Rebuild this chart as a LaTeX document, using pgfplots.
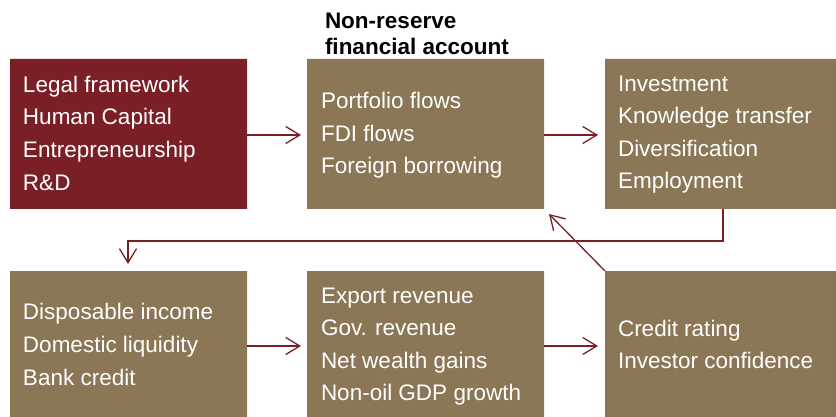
\documentclass[border=0pt]{standalone}
\usepackage{fontspec}
\setmainfont{Liberation Sans}
\usepackage{pgfplots}
\pgfplotsset{compat=1.18}
\usetikzlibrary{arrows.meta}
\definecolor{boxred}{HTML}{7B1F27}
\definecolor{boxbrown}{HTML}{8B7655}
\definecolor{arrred}{HTML}{7B1F27}
\tikzset{
  tt/.style={inner sep=0pt, outer sep=0pt, anchor=base west, text=white, font=\fontsize{22.5}{26}\selectfont},
  ht/.style={inner sep=0pt, outer sep=0pt, anchor=base west, text=black, font=\fontsize{22.5}{26}\selectfont\bfseries}
}
\begin{document}
\begin{tikzpicture}
\useasboundingbox (0,0) rectangle (836pt,417pt);
\begin{axis}[at={(0,0)}, anchor=south west, scale only axis,
  width=836pt, height=417pt, xmin=0, xmax=836, ymin=0, ymax=417,
  y dir=reverse, hide axis, clip=false]
% boxes
\addplot[fill=boxred, draw=none] coordinates {(10,59) (247,59) (247,209) (10,209) (10,59)};
\addplot[fill=boxbrown, draw=none] coordinates {(307,59) (544,59) (544,209) (307,209) (307,59)};
\addplot[fill=boxbrown, draw=none] coordinates {(605,59) (836,59) (836,209) (605,209) (605,59)};
\addplot[fill=boxbrown, draw=none] coordinates {(10,271) (247,271) (247,417) (10,417) (10,271)};
\addplot[fill=boxbrown, draw=none] coordinates {(307,271) (544,271) (544,417) (307,417) (307,271)};
\addplot[fill=boxbrown, draw=none] coordinates {(605,271) (836,271) (836,417) (605,417) (605,271)};
% arrows
\pgfplotsset{arr/.style={arrred, line width=1.3pt, -{Straight Barb[length=14pt, width=17pt, line width=1.3pt]}}}
\addplot[arr] coordinates {(247,135) (301,135)};
\addplot[arr] coordinates {(544,135) (598,135)};
\addplot[arr] coordinates {(247,346) (301,346)};
\addplot[arr] coordinates {(544,346) (598,346)};
\addplot[arr] coordinates {(723,209) (723,241) (128,241) (128,264)};
\addplot[arr] coordinates {(605,271) (549,214)};
% title
\node[ht] at (axis cs:325,29) {Non-reserve};
\node[ht] at (axis cs:325,55) {financial account};
% box texts
\node[tt] at (axis cs:23,93) {Legal framework};
\node[tt] at (axis cs:23,125) {Human Capital};
\node[tt] at (axis cs:23,158) {Entrepreneurship};
\node[tt] at (axis cs:23,191) {R\&D};
\node[tt] at (axis cs:321,109) {Portfolio flows};
\node[tt] at (axis cs:321,142) {FDI flows};
\node[tt] at (axis cs:321,174) {Foreign borrowing};
\node[tt] at (axis cs:618,92) {Investment};
\node[tt] at (axis cs:618,124) {Knowledge transfer};
\node[tt] at (axis cs:618,157) {Diversification};
\node[tt] at (axis cs:618,189) {Employment};
\node[tt] at (axis cs:23,319) {Disposable income};
\node[tt] at (axis cs:23,352) {Domestic liquidity};
\node[tt] at (axis cs:23,385) {Bank credit};
\node[tt] at (axis cs:321,303) {Export revenue};
\node[tt] at (axis cs:321,335) {Gov. revenue};
\node[tt] at (axis cs:321,368) {Net wealth gains};
\node[tt] at (axis cs:321,400) {Non-oil GDP growth};
\node[tt] at (axis cs:618,336) {Credit rating};
\node[tt] at (axis cs:618,368) {Investor confidence};
\end{axis}
\end{tikzpicture}
\end{document}
